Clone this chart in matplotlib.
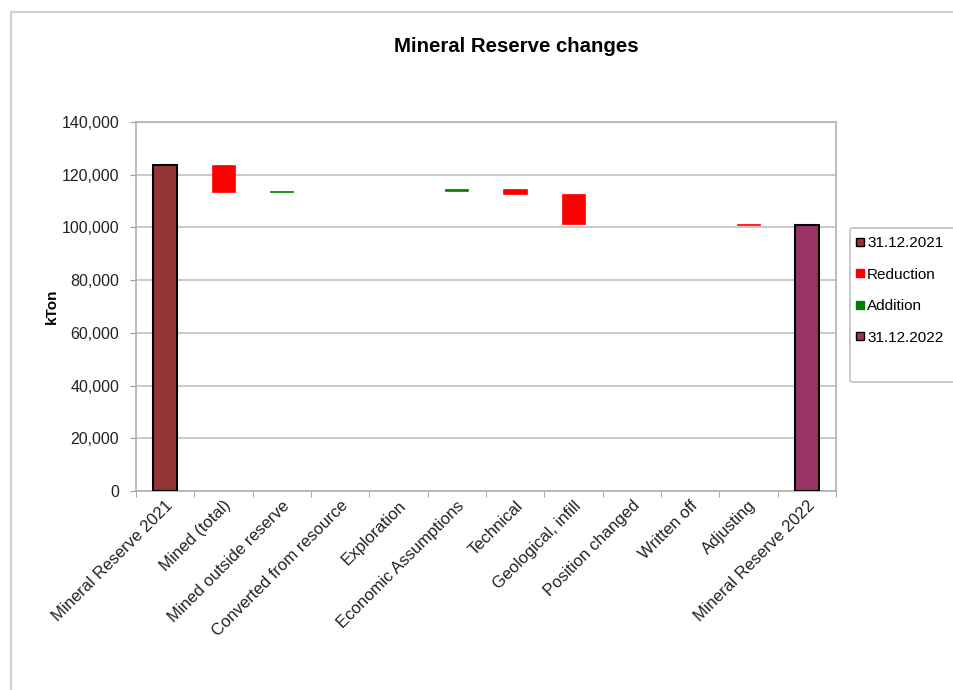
import matplotlib.pyplot as plt
import matplotlib.patches as mpatches
from matplotlib.lines import Line2D
from matplotlib.ticker import FuncFormatter
import numpy as np

plt.rcParams['font.family'] = ['Liberation Sans', 'DejaVu Sans']

# categories and changes (kTon)
categories = ['Mineral Reserve 2021', 'Mined (total)', 'Mined outside reserve',
              'Converted from resource', 'Exploration', 'Economic Assumptions',
              'Technical', 'Geological, infill', 'Position changed', 'Written off',
              'Adjusting', 'Mineral Reserve 2022']
start_value = 123700
changes = [0, -10400, 500, 0, 0, 900, -1900, -11500, 0, 0, -300, 0]

legend_labels = ['31.12.2021', 'Reduction', 'Addition', '31.12.2022']
c_start = '#933333'
c_red = '#ff0000'
c_green = '#008000'
c_end = '#993366'

# waterfall bottoms / heights
bottoms = []
heights = []
colors = []
total = start_value
for i, d in enumerate(changes):
    if i == 0:
        bottoms.append(0); heights.append(start_value); colors.append(c_start)
    elif i == len(changes) - 1:
        bottoms.append(0); heights.append(total); colors.append(c_end)
    else:
        new_total = total + d
        bottoms.append(min(total, new_total))
        heights.append(abs(d))
        colors.append(c_red if d < 0 else c_green)
        total = new_total

fig = plt.figure(figsize=(9.54, 6.9), dpi=100)
ax = fig.add_axes([136/954, 1-491/690, 700/954, 369/690])

x = np.arange(len(categories))
for i in range(len(categories)):
    if heights[i] == 0:
        continue
    if i == 0 or i == len(categories) - 1:
        ax.bar(x[i], heights[i], bottom=bottoms[i], width=0.42, color=colors[i],
               edgecolor='black', linewidth=1.5, zorder=3)
    else:
        ax.bar(x[i], heights[i], bottom=bottoms[i], width=0.4, color=colors[i],
               edgecolor=colors[i], linewidth=0.5, zorder=3)

ax.set_xlim(-0.5, len(categories) - 0.5)
ax.set_ylim(0, 140000)
ax.set_yticks(np.arange(0, 140001, 20000))
ax.yaxis.set_major_formatter(FuncFormatter(lambda v, p: f'{int(v):,}'))
ax.grid(axis='y', color='#c0c0c0', linewidth=1.2, zorder=0)
ax.set_xticks(x)
ax.set_xticklabels(categories, rotation=45, ha='right', rotation_mode='anchor',
                   fontsize=12, color='#222222')
ax.set_xticks(np.arange(-0.5, len(categories), 1), minor=True)
ax.tick_params(axis='x', which='major', length=0, pad=5)
ax.tick_params(axis='x', which='minor', length=4, color='#999999')
ax.tick_params(axis='y', length=4, color='#999999', labelsize=11.5, labelcolor='#222222', pad=8)
for s in ax.spines.values():
    s.set_color('#b0b0b0')
    s.set_linewidth(1.2)
ax.set_ylabel('kTon', fontsize=11, fontweight='bold', labelpad=2)

fig.text(516/954, 1-47/690, 'Mineral Reserve changes', ha='center', va='center',
         fontsize=14.7, fontweight='bold')

# outer chart border
fig.patches.append(mpatches.Rectangle((11/954, -0.05), 1.0, 1.05-12/690, transform=fig.transFigure,
                                      fill=False, edgecolor='#d0d0d0', linewidth=1.5))
# legend box
fig.patches.append(mpatches.FancyBboxPatch((850/954, 1-382/690), 0.2, 154/690,
                                           boxstyle='round,pad=0,rounding_size=0.003',
                                           transform=fig.transFigure, fill=False,
                                           edgecolor='#c0c0c0', linewidth=1.2))
handles = [Line2D([], [], marker='s', linestyle='', markersize=6, markerfacecolor=c_start, markeredgecolor='black'),
           Line2D([], [], marker='s', linestyle='', markersize=6, markerfacecolor=c_red, markeredgecolor=c_red),
           Line2D([], [], marker='s', linestyle='', markersize=6, markerfacecolor=c_green, markeredgecolor=c_green),
           Line2D([], [], marker='s', linestyle='', markersize=6, markerfacecolor=c_end, markeredgecolor='black')]
fig.legend(handles, legend_labels, loc='upper left', bbox_to_anchor=(855/954, 1-236/690),
           frameon=False, fontsize=11, handlelength=0.6, handletextpad=0.2,
           labelspacing=1.15, borderaxespad=0, borderpad=0)

fig.savefig('out.png', dpi=100)
